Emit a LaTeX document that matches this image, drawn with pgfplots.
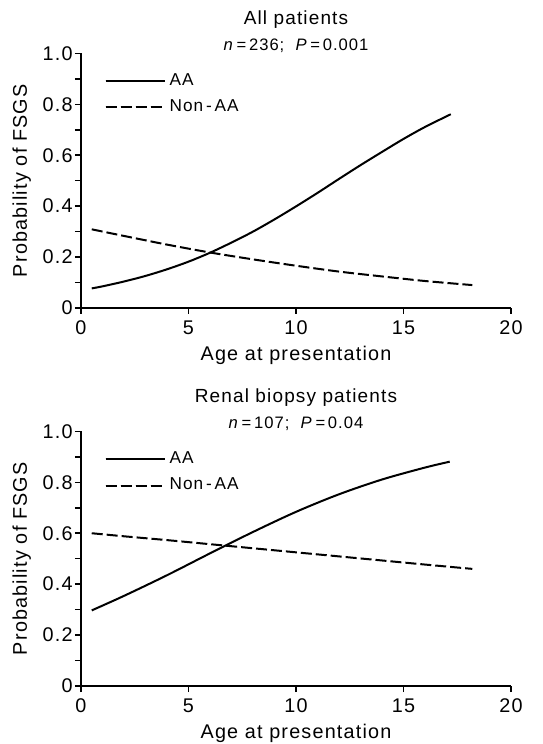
\documentclass[border=0pt]{standalone}
\usepackage{fontspec}
\setmainfont{Liberation Sans}[LetterSpace=6]
\usepackage{pgfplots}
\pgfplotsset{compat=1.18}

\pgfplotsset{fsgs/.style={
  scale only axis, width=215pt, height=127.3pt,
  xmin=0, xmax=20, ymin=0, ymax=1,
  axis x line*=bottom, axis y line*=left,
  axis line style={line width=0.9pt, -},
  xtick={0,5,10,15,20},
  ytick={0,0.2,0.4,0.6,0.8,1.0},
  yticklabels={0,0.2,0.4,0.6,0.8,1.0},
  minor ytick={0.1,0.3,0.5,0.7,0.9},
  tick align=outside, major tick length=3pt, minor tick length=3pt,
  every tick/.style={line width=0.8pt, black},
  /pgf/number format/assume math mode=true,
  tick label style={font=\fontsize{9.9}{11}\selectfont},
  yticklabel style={inner sep=1pt},
  label style={font=\fontsize{9.9}{11}\selectfont},
  xlabel style={at={(axis description cs:0.5,-0.207)}, anchor=base},
  ylabel style={at={(axis description cs:-0.1256,0.5)}, anchor=base},
  xlabel={Age at presentation}, ylabel={Probability of FSGS},
  legend style={draw=none, fill=none, at={(rel axis cs:0.04,0.955)}, anchor=north west,
    font=\fontsize{8.6}{10}\selectfont, row sep=2pt, cells={anchor=west}},
  legend image code/.code={\draw[#1] (0pt,0pt) -- (26pt,0pt); \path (0pt,0pt) -- (29.5pt,0pt);},
  every axis plot/.append style={line width=1pt, black},
}}
\tikzset{dashedline/.style={dash pattern=on 5.5pt off 2pt}}

\begin{document}
\begin{tikzpicture}
\path[use as bounding box] (0,0) rectangle (271pt,372pt);

% All patients
\begin{axis}[fsgs, name=top, at={(40.5pt,218pt)}, anchor=south west]
\addplot[smooth] coordinates {(0.5,0.077) (1,0.085) (2,0.104) (3,0.126) (4,0.152) (5,0.182) (6,0.217) (7,0.257) (8,0.300) (9,0.348) (10,0.399) (11,0.452) (12,0.507) (13,0.561) (14,0.613) (15,0.664) (16,0.711) (17.2,0.761)};
\addlegendentry{AA}
\addplot[smooth, dashedline] coordinates {(0.5,0.309) (2,0.283) (4,0.249) (6,0.218) (8,0.191) (10,0.166) (12,0.143) (14,0.124) (16,0.106) (18.2,0.090)};
\addlegendentry{Non\,-\,AA}
\end{axis}
\node[anchor=base, font=\fontsize{9.5}{11}\selectfont] at ([yshift=14.5pt]top.north) {All patients};
\node[anchor=base, font=\fontsize{8.3}{9}\selectfont] at ([yshift=1.2pt]top.north) {\textit{n}\,=\,236;\ \ \textit{P}\,=\,0.001};

% Renal biopsy patients
\begin{axis}[fsgs, name=bot, at={(40.5pt,29pt)}, anchor=south west]
\addplot[smooth] coordinates {(0.5,0.297) (2,0.354) (4,0.435) (6,0.521) (8,0.605) (10,0.684) (12,0.753) (14,0.811) (16,0.858) (17.15,0.881)};
\addlegendentry{AA}
\addplot[smooth, dashedline] coordinates {(0.5,0.600) (2,0.588) (4,0.573) (6,0.557) (8,0.541) (10,0.525) (12,0.509) (14,0.493) (16,0.477) (18.2,0.460)};
\addlegendentry{Non\,-\,AA}
\end{axis}
\node[anchor=base, font=\fontsize{9.5}{11}\selectfont] at ([yshift=14.5pt]bot.north) {Renal biopsy patients};
\node[anchor=base, font=\fontsize{8.3}{9}\selectfont] at ([yshift=1.2pt]bot.north) {\textit{n}\,=\,107;\ \ \textit{P}\,=\,0.04};
\end{tikzpicture}
\end{document}
